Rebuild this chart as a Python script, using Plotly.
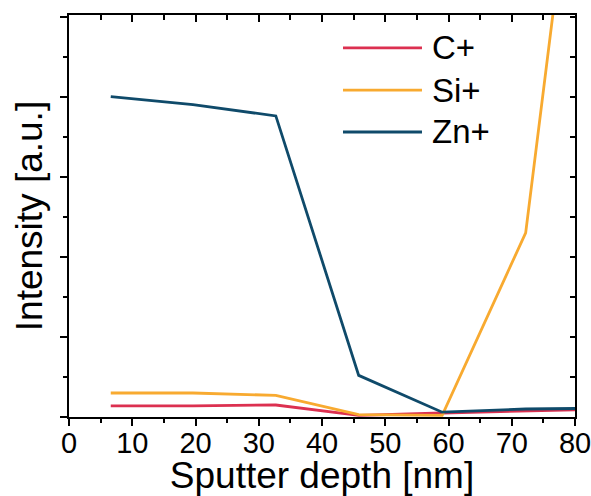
import plotly.graph_objects as go

# Data
depth = [6.6, 19.6, 32.7, 45.8, 59.0, 72.2, 85.3]
c_plus = [0.14, 0.14, 0.15, 0.02, 0.05, 0.08, 0.10]
si_plus = [0.30, 0.30, 0.27, 0.03, 0.02, 2.30, 10.6]
zn_plus = [4.0, 3.9, 3.76, 0.52, 0.06, 0.10, 0.11]

series_names = ["C+", "Si+", "Zn+"]
series_colors = ["#DC3050", "#F8AA30", "#0F4A6A"]
x_tick_vals = [0, 10, 20, 30, 40, 50, 60, 70, 80]

FONT = "Liberation Sans, Arial, sans-serif"

fig = go.Figure()
for name, vals, col in zip(series_names, [c_plus, si_plus, zn_plus], series_colors):
    fig.add_trace(go.Scatter(x=depth, y=vals, mode="lines", name=name,
                             line=dict(color=col, width=2.8), showlegend=False))

# dummy trace so mirrored axes (top/right, ticks inside) are drawn
fig.add_trace(go.Scatter(x=[None], y=[None], xaxis="x2", yaxis="y2",
                         showlegend=False, hoverinfo="skip"))

# manual legend with long line samples
leg_y = [0.918, 0.813, 0.709]
for name, col, yy in zip(series_names, series_colors, leg_y):
    fig.add_shape(type="line", xref="paper", yref="paper",
                  x0=0.5415, x1=0.6976, y0=yy, y1=yy,
                  line=dict(color=col, width=2.8))
    fig.add_annotation(xref="paper", yref="paper", x=0.713, y=yy,
                       text=name, showarrow=False, xanchor="left", yanchor="middle",
                       font=dict(family=FONT, size=33, color="black"))

common = dict(showgrid=False, zeroline=False, showline=True, linecolor="black",
              linewidth=2, tickcolor="black", tickwidth=1.5, automargin=False)

fig.update_layout(
    width=591, height=496,
    margin=dict(l=69, r=16, t=15, b=79),
    paper_bgcolor="white", plot_bgcolor="white",
    font=dict(family=FONT, color="black"),
    showlegend=False,
    xaxis=dict(range=[0, 80], tickvals=x_tick_vals, ticks="outside", ticklen=7,
               ticklabelstandoff=-8, ticklabeloverflow="allow",
               minor=dict(dtick=5, ticks="outside", ticklen=4, tickcolor="black", tickwidth=1.5),
               tickfont=dict(family=FONT, size=29, color="black"),
               title=dict(text="Sputter depth [nm]", font=dict(family=FONT, size=37, color="black"),
                          standoff=6),
               **common),
    yaxis=dict(range=[0, 5.02], dtick=1, ticks="outside", ticklen=7, showticklabels=False,
               minor=dict(dtick=0.5, ticks="outside", ticklen=4, tickcolor="black", tickwidth=1.5),
               title=dict(text="Intensity [a.u.]", font=dict(family=FONT, size=37, color="black"),
                          standoff=6),
               **common),
    xaxis2=dict(range=[0, 80], overlaying="x", side="top", anchor="y", dtick=10,
                ticks="inside", ticklen=7, showticklabels=False,
                minor=dict(dtick=5, ticks="inside", ticklen=5, tickcolor="black", tickwidth=1.5),
                **common),
    yaxis2=dict(range=[0, 5.02], overlaying="y", side="right", anchor="x", dtick=1,
                ticks="inside", ticklen=5, showticklabels=False,
                minor=dict(dtick=0.5, ticks="inside", ticklen=5, tickcolor="black", tickwidth=1.5),
                **common),
)

# remove the browser's default 8px body margin so the figure fills the window exactly
fig.write_html("out.html", config={"displayModeBar": False},
               post_script="document.body.style.margin='0';document.body.style.overflow='hidden';")
